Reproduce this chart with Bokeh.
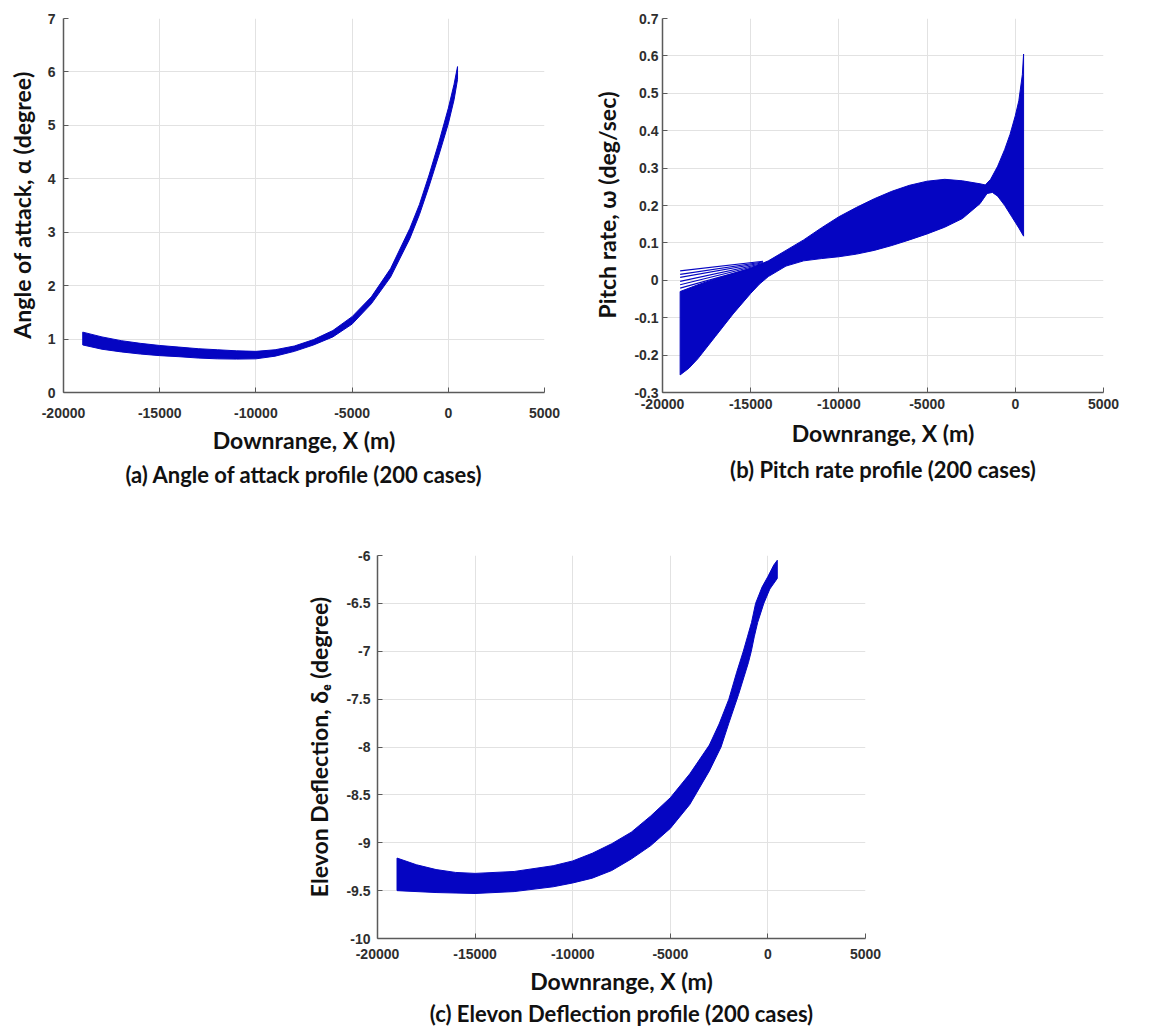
from bokeh.plotting import figure
from bokeh.layouts import column, row, Spacer
from bokeh.models import FixedTicker, PrintfTickFormatter, Title, Range1d
from bokeh.embed import file_html
from bokeh.resources import INLINE

# ---------------- data ----------------
X_TICKS = [-20000, -15000, -10000, -5000, 0, 5000]
A_Y_TICKS = [0, 1, 2, 3, 4, 5, 6, 7]
B_Y_TICKS = [-0.3, -0.2, -0.1, 0, 0.1, 0.2, 0.3, 0.4, 0.5, 0.6, 0.7]
C_Y_TICKS = [-10, -9.5, -9, -8.5, -8, -7.5, -7, -6.5, -6]

# (a) Angle of attack envelope of the 200 cases
A_UP_X = [-19000, -18000, -17000, -16000, -15000, -14000, -13000, -12000, -11000, -10000,
          -9000, -8000, -7000, -6000, -5000, -4000, -3000, -2000, -1500, -1000, -500, 0, 300, 480]
A_UP_Y = [1.13, 1.04, 0.97, 0.92, 0.88, 0.85, 0.82, 0.80, 0.78, 0.77,
          0.80, 0.87, 0.99, 1.16, 1.42, 1.79, 2.32, 3.07, 3.52, 4.07, 4.67, 5.32, 5.77, 6.10]
A_LO_X = [-19000, -18000, -17000, -16000, -15000, -14000, -13000, -12000, -11000, -10000,
          -9000, -8000, -7000, -6000, -5000, -4000, -3000, -2000, -1500, -1000, -500, 0, 300, 480]
A_LO_Y = [0.89, 0.81, 0.76, 0.72, 0.69, 0.67, 0.645, 0.63, 0.625, 0.63,
          0.68, 0.77, 0.89, 1.04, 1.28, 1.66, 2.16, 2.88, 3.33, 3.86, 4.43, 5.03, 5.48, 5.86]

# (b) Pitch rate envelope of the 200 cases
B_UP_X = [-19000, -18000, -17000, -16000, -15000, -14000, -13000, -12000, -11000, -10000,
          -9000, -8000, -7000, -6000, -5000, -4000, -3000, -2000, -1700, -1400, -1000,
          -600, -300, 0, 200, 400, 470]
B_UP_Y = [-0.03, -0.012, 0.004, 0.018, 0.032, 0.052, 0.08, 0.108, 0.14, 0.17,
          0.195, 0.218, 0.238, 0.254, 0.265, 0.27, 0.266, 0.258, 0.255, 0.27, 0.305,
          0.35, 0.39, 0.44, 0.48, 0.55, 0.605]
B_LO_X = [-19000, -18500, -18000, -17000, -16000, -15000, -14500, -14000, -13000, -12000,
          -11000, -10000, -9000, -8000, -7000, -6000, -5000, -4000, -3000, -2000, -1600,
          -1300, -1000, -600, -200, 200, 470]
B_LO_Y = [-0.253, -0.235, -0.21, -0.15, -0.09, -0.035, -0.01, 0.01, 0.038, 0.052,
          0.058, 0.063, 0.07, 0.08, 0.093, 0.108, 0.124, 0.142, 0.165, 0.205, 0.232,
          0.235, 0.225, 0.2, 0.17, 0.14, 0.118]
# (b) separate cases visible above the dense band at the start
B_LINE_X0 = [-19000, -19000, -19000, -19000, -19000, -19000]
B_LINE_Y0 = [0.025, 0.016, 0.008, -0.003, -0.012, -0.021]
B_LINE_X1 = [-14300, -14300, -14300, -14300, -14300, -14300]
B_LINE_Y1 = [0.051, 0.049, 0.047, 0.045, 0.043, 0.041]

# (c) Elevon deflection envelope of the 200 cases
C_UP_X = [-19000, -18000, -17000, -16000, -15000, -13000, -11000, -10000, -9000, -8000,
          -7000, -6000, -5000, -4000, -3000, -2500, -2000, -1600, -1260, -1050, -840, -630,
          -300, 0, 300, 480]
C_UP_Y = [-9.16, -9.23, -9.28, -9.31, -9.32, -9.30, -9.24, -9.19, -9.11, -9.01,
          -8.89, -8.72, -8.53, -8.28, -7.98, -7.76, -7.5, -7.22, -7.0, -6.85, -6.7, -6.5,
          -6.33, -6.22, -6.1, -6.05]
C_LO_X = [-19000, -17000, -15000, -13000, -11000, -10000, -9000, -8000, -7000, -6000,
          -5000, -4000, -3000, -2400, -2000, -1500, -1000, -850, -700, -525, -210, 100, 480]
C_LO_Y = [-9.50, -9.52, -9.53, -9.51, -9.46, -9.42, -9.37, -9.29, -9.17, -9.03,
          -8.85, -8.6, -8.25, -8.0, -7.75, -7.45, -7.12, -7.0, -6.85, -6.7, -6.5, -6.35, -6.24]

BLUE = "#0505C2"
TICK_FONT = "Liberation Sans"
LABEL_FONT = "Lato"


def make_fig(width, height, left, right, top, bottom, y_range, yticks, ylabel,
             x_standoff, y_standoff, ylabel_standoff, xtitle_offset, cap, cap_offset,
             t1_standoff, t2_standoff):
    p = figure(width=width, height=height, output_backend="svg", toolbar_location=None,
               x_range=Range1d(-20000, 5000), y_range=Range1d(*y_range),
               min_border_left=left, min_border_right=right,
               min_border_top=top, min_border_bottom=bottom)
    p.outline_line_color = None
    p.background_fill_color = "white"
    p.border_fill_color = "white"
    p.xaxis.ticker = FixedTicker(ticks=X_TICKS)
    p.yaxis.ticker = FixedTicker(ticks=yticks)
    p.xaxis.formatter = PrintfTickFormatter(format="%d")
    p.yaxis.formatter = PrintfTickFormatter(format="%g")
    for ax in (p.xaxis, p.yaxis):
        ax.axis_line_color = "#5a5a5a"
        ax.axis_line_width = 1.5
        ax.major_tick_line_color = "#5a5a5a"
        ax.major_tick_in = 5
        ax.major_tick_out = 0
        ax.minor_tick_line_color = None
        ax.major_label_text_font = TICK_FONT
        ax.major_label_text_font_style = "bold"
        ax.major_label_text_font_size = "14px"
        ax.major_label_text_color = "#2e2e2e"
    p.xaxis.major_label_standoff = x_standoff
    p.yaxis.major_label_standoff = y_standoff
    p.yaxis.axis_label = ylabel
    p.yaxis.axis_label_text_font = LABEL_FONT
    p.yaxis.axis_label_text_font_style = "bold"
    p.yaxis.axis_label_text_font_size = "23px"
    p.yaxis.axis_label_text_color = "#111111"
    p.yaxis.axis_label_standoff = ylabel_standoff
    p.grid.grid_line_color = "#e2e2e2"
    p.grid.grid_line_width = 1
    t1 = Title(text="Downrange, X (m)", align="center", offset=xtitle_offset,
               text_font=LABEL_FONT, text_font_size="23px", text_font_style="bold",
               text_color="#111111", standoff=t1_standoff)
    p.add_layout(t1, "below")
    t2 = Title(text=cap, align="center", offset=cap_offset,
               text_font=LABEL_FONT, text_font_size="22px", text_font_style="bold",
               text_color="#111111", standoff=t2_standoff)
    p.add_layout(t2, "below")
    return p


pa = make_fig(590, 500, 63, 46, 18, 106, (0, 7), A_Y_TICKS, "Angle of attack, α (degree)",
              15, 8, 9, -3, "(a) Angle of attack profile (200 cases)", -15, 6, 5)
pa.patch(A_UP_X + A_LO_X[::-1], A_UP_Y + A_LO_Y[::-1], fill_color=BLUE,
         line_color=BLUE, line_width=1)

pb = make_fig(571, 500, 64, 58, 13, 108, (-0.3, 0.7), B_Y_TICKS, "Pitch rate, ω (deg/sec)",
              6, 4, 10, 15, "(b) Pitch rate profile (200 cases)", 42, 11, 3)
pb.patch(B_UP_X + B_LO_X[::-1], B_UP_Y + B_LO_Y[::-1], fill_color=BLUE,
         line_color=BLUE, line_width=1)
pb.segment(B_LINE_X0, B_LINE_Y0, B_LINE_X1, B_LINE_Y1, line_color=BLUE, line_width=1.2)

pc = make_fig(625, 529, 77, 60, 55, 91, (-10, -6), C_Y_TICKS, "Elevon Deflection, δₑ (degree)",
              10, 7, 10, 17, "(c) Elevon Deflection profile (200 cases)", 43, 6, 0)
pc.patch(C_UP_X + C_LO_X[::-1], C_UP_Y + C_LO_Y[::-1], fill_color=BLUE,
         line_color=BLUE, line_width=1)

layout = column(row(pa, pb), row(Spacer(width=300, height=529), pc))

open("out.html", "w").write(file_html(layout, INLINE))
